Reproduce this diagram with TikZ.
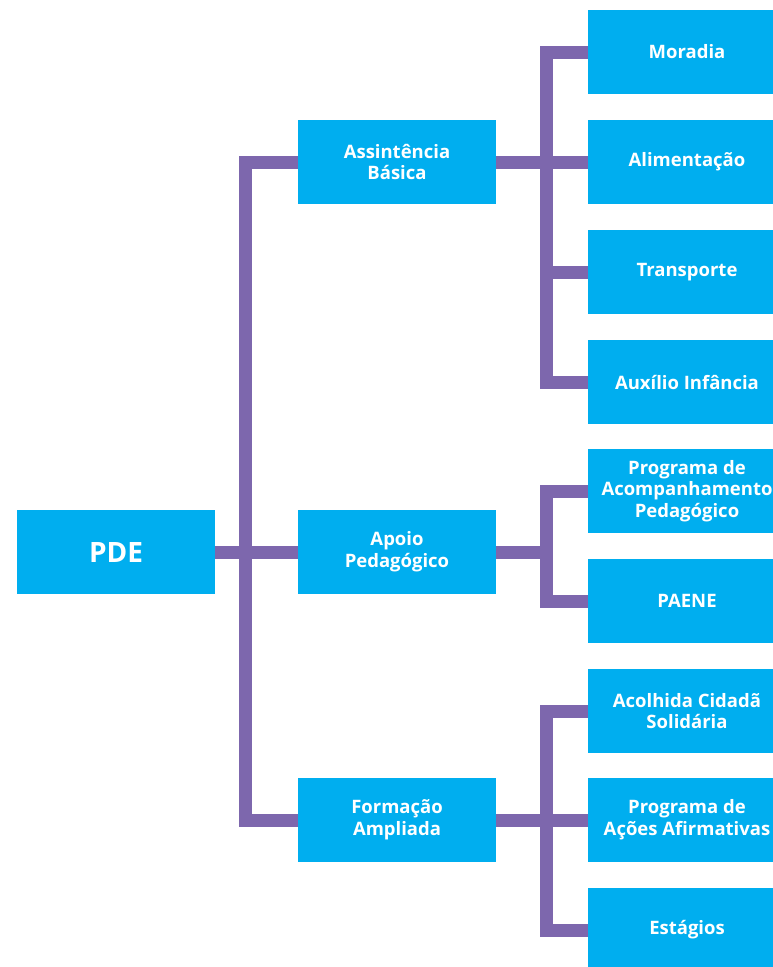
\documentclass[tikz,border=0pt]{standalone}
\usepackage{fontspec}
\setmainfont{Open Sans}
\definecolor{boxcyan}{RGB}{0,174,239}
\definecolor{linepurple}{RGB}{125,103,173}
\begin{document}
\begin{tikzpicture}[x=1pt,y=-1pt,
  box/.style={fill=boxcyan, text=white, minimum width=198pt, minimum height=84pt,
    inner sep=0pt, align=center, font=\bfseries\fontsize{18.5}{21.7}\selectfont},
  conn/.style={draw=linepurple, line width=13pt}]
\useasboundingbox (0,0) rectangle (773,967);
\clip (0,0) rectangle (773,967);
% root
\node[box, font=\bfseries\fontsize{28}{32}\selectfont] (pde) at (116,552) {PDE};
% level 2
\node[box] (asb) at (397,162) {Assintência\\Básica};
\node[box] (apo) at (397,552) {Apoio\\Pedagógico};
\node[box] (for) at (397,820) {Formação\\Ampliada};
% level 3
\node[box] (mor) at (687,52) {Moradia};
\node[box] (ali) at (687,162) {Alimentação};
\node[box] (tra) at (687,272) {Transporte};
\node[box] (aux) at (687,382) {Auxílio Infância};
\node[box] (pro) at (687,491) {Programa de\\Acompanhamento\\Pedagógico};
\node[box] (pae) at (687,601) {PAENE};
\node[box] (aco) at (687,711) {Acolhida Cidadã\\Solidária};
\node[box] (paa) at (687,820) {Programa de\\Ações Afirmativas};
\node[box] (est) at (687,930) {Estágios};
% trunk coordinates
\coordinate (t0) at (245.5,552);
\coordinate (t1) at (546,162);
\coordinate (t2) at (546,552);
\coordinate (t3) at (546,820);
% connectors
\draw[conn] (asb.west) -| (t0) |- (for.west);
\draw[conn] (pde.east) -- (apo.west);
\draw[conn] (mor.west) -| (t1) |- (aux.west);
\draw[conn] (asb.east) -- (ali.west);
\draw[conn] (t1 |- tra.west) -- (tra.west);
\draw[conn] (pro.west) -| (t2) |- (pae.west);
\draw[conn] (apo.east) -- (t2);
\draw[conn] (aco.west) -| (t3) |- (est.west);
\draw[conn] (for.east) -- (paa.west);
\end{tikzpicture}
\end{document}
